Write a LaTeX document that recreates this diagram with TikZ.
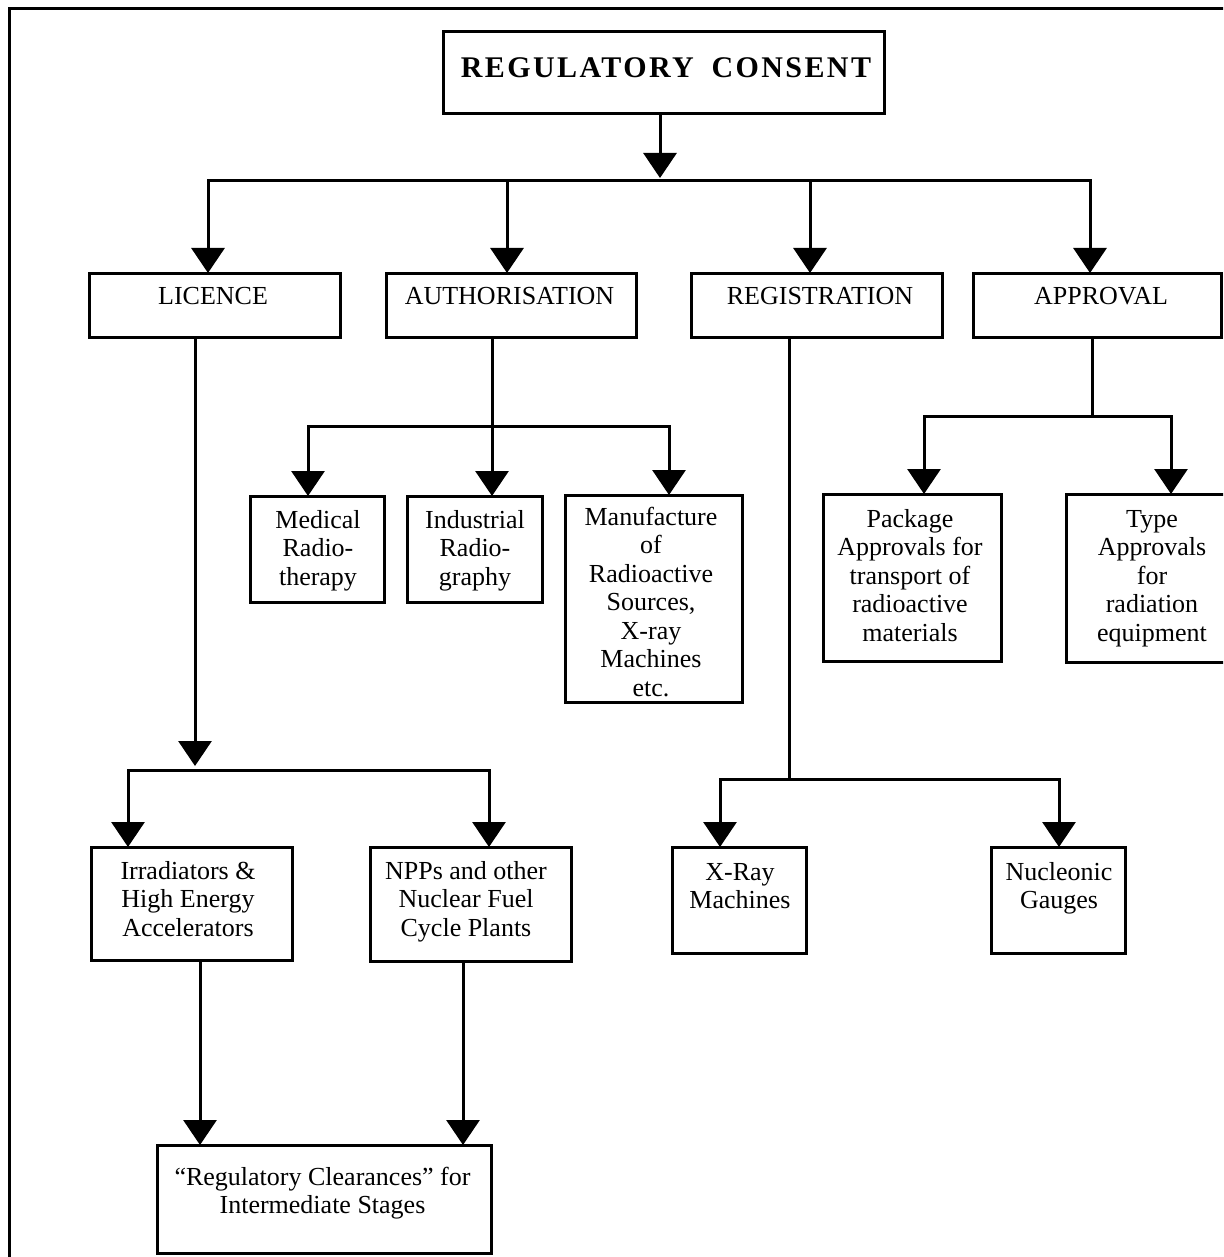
\documentclass[tikz,border=0pt]{standalone}
\usepackage{fontspec}
\setmainfont{Liberation Serif}
\usetikzlibrary{arrows.meta,calc}
\begin{document}
\begin{tikzpicture}[x=1pt,y=-1pt,
  box/.style={draw,line width=3pt,inner sep=0pt,outer sep=0pt,anchor=north west},
  lbl/.style={inner sep=0pt,anchor=base,align=center,font=\fontsize{26}{28.5}\selectfont},
  conn/.style={line width=3pt},
  arr/.style={conn,-{Triangle[length=25pt,width=33pt]}},
  arrs/.style={conn,{Triangle[length=25pt,width=33pt]}-{Triangle[length=25pt,width=33pt]}},
]
\path[use as bounding box,clip] (0,0) rectangle (1223,1257);
\fill[white] (0,0) rectangle (1223,1257);
% outer frame (left and top edges visible)
\draw[line width=3pt] (9,1280) -- (9,9) -- (1250,9);

% boxes
\node[box,minimum width=441pt,minimum height=82pt] (rc) at (443,32) {};
\node[box,minimum width=251pt,minimum height=64pt] (lic) at (89,273) {};
\node[box,minimum width=250pt,minimum height=64pt] (auth) at (386,273) {};
\node[box,minimum width=251pt,minimum height=64pt] (reg) at (691,273) {};
\node[box,minimum width=248pt,minimum height=64pt] (appr) at (973,273) {};
\node[box,minimum width=134pt,minimum height=106pt] (med) at (250,496) {};
\node[box,minimum width=135pt,minimum height=106pt] (ind) at (407,496) {};
\node[box,minimum width=177pt,minimum height=207pt] (man) at (565,495) {};
\node[box,minimum width=178pt,minimum height=167pt] (pkg) at (823,494) {};
\node[box,minimum width=164pt,minimum height=168pt] (typ) at (1066,494) {};
\node[box,minimum width=201pt,minimum height=113pt] (irr) at (91,847) {};
\node[box,minimum width=201pt,minimum height=114pt] (npp) at (370,847) {};
\node[box,minimum width=134pt,minimum height=106pt] (xr) at (672,847) {};
\node[box,minimum width=134pt,minimum height=106pt] (nuc) at (991,847) {};
\node[box,minimum width=334pt,minimum height=108pt] (clr) at (157,1145) {};

% texts (base anchor = baseline of the last line)
\node[lbl,font=\fontsize{30}{34}\selectfont\bfseries\addfontfeature{LetterSpace=8}] (rcT) at (666,78) {REGULATORY\hspace{8pt} CONSENT};
\node[lbl] (licT) at (213,304) {LICENCE};
\node[lbl] (authT) at (509.5,304) {AUTHORISATION};
\node[lbl] (regT) at (820,304) {REGISTRATION};
\node[lbl] (apprT) at (1101,304) {APPROVAL};
\node[lbl] (medT) at (318,585) {Medical\\Radio-\\therapy};
\node[lbl] (indT) at (475,585) {Industrial\\Radio-\\graphy};
\node[lbl] (manT) at (651,696) {Manufacture\\of\\Radioactive\\Sources,\\X-ray\\Machines\\etc.};
\node[lbl] (pkgT) at (910,641) {Package\\Approvals for\\transport of\\radioactive\\materials};
\node[lbl] (typT) at (1152,641) {Type\\Approvals\\for\\radiation\\equipment};
\node[lbl] (irrT) at (188,936) {Irradiators \&\\High Energy\\Accelerators};
\node[lbl] (nppT) at (466,936) {NPPs and other\\Nuclear Fuel\\Cycle Plants};
\node[lbl] (xrT) at (740,908.5) {X-Ray\\Machines};
\node[lbl] (nucT) at (1059,908.5) {Nucleonic\\Gauges};
\node[lbl] (clrT) at (322.5,1213.5) {“Regulatory Clearances” for\\Intermediate Stages};

% junction coordinates
\coordinate (top) at (660,181);
\coordinate (bL) at (208,181);
\coordinate (bA) at (507,181);
\coordinate (bR) at (810,181);
\coordinate (bP) at (1090,181);
\coordinate (lb) at (195,770);
\coordinate (lbL) at (128,770);
\coordinate (lbR) at (489,770);
\coordinate (ci) at (200,1000);
\coordinate (cn) at (463,1000);
\coordinate (ab) at (492,426);
\coordinate (abL) at (308,426);
\coordinate (abR) at (669,426);
\coordinate (rb) at (789,779);
\coordinate (rbL) at (720,779);
\coordinate (rbR) at (1059,779);
\coordinate (pb) at (1092,416);
\coordinate (pbL) at (924,416);
\coordinate (pbR) at (1171,416);

% connectors
\draw[arr] (rc.south -| top) -- ([yshift=3pt]top);
\draw[arrs] (lic.north -| bL) -- (bL) -- (bP) -- (appr.north -| bP);
\draw[arr] (bA) -- (auth.north -| bA);
\draw[arr] (bR) -- (reg.north -| bR);

\draw[arr] (lic.south -| lb) -- ([yshift=4pt]lb);
\draw[arrs] (irr.north -| lbL) -- (lbL) -- (lbR) -- (npp.north -| lbR);
\draw[arr] (irr.south -| ci) -- (clr.north -| ci);
\draw[arr] (npp.south -| cn) -- (clr.north -| cn);

\draw[conn] (auth.south -| ab) -- (ab);
\draw[arrs] (med.north -| abL) -- (abL) -- (abR) -- (man.north -| abR);
\draw[arr] (ab) -- (ind.north -| ab);

\draw[conn] (reg.south -| rb) -- (rb);
\draw[arrs] (xr.north -| rbL) -- (rbL) -- (rbR) -- (nuc.north -| rbR);

\draw[conn] (appr.south -| pb) -- (pb);
\draw[arrs] (pkg.north -| pbL) -- (pbL) -- (pbR) -- (typ.north -| pbR);
\end{tikzpicture}
\end{document}
